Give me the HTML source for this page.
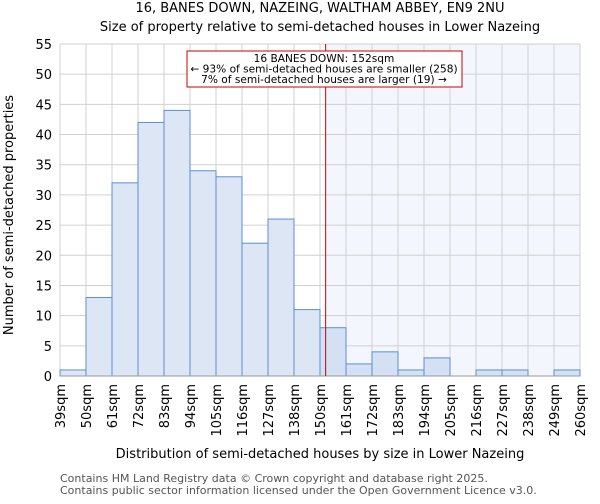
<!DOCTYPE html>
<html><head><meta charset="utf-8"><style>
body{margin:0;background:#fff;font-family:"DejaVu Sans","Liberation Sans",sans-serif;}
svg text{font-family:"DejaVu Sans","Liberation Sans",sans-serif;}
</style></head><body>
<svg id="chart" width="600" height="500" xmlns="http://www.w3.org/2000/svg">
<text x="320" y="12" text-anchor="middle" font-size="13">16, BANES DOWN, NAZEING, WALTHAM ABBEY, EN9 2NU</text>
<text x="320" y="31" text-anchor="middle" font-size="13">Size of property relative to semi-detached houses in Lower Nazeing</text>
<g id="grid"></g><g id="bars"></g><g id="axes"></g>
<text x="320" y="458" text-anchor="middle" font-size="13">Distribution of semi-detached houses by size in Lower Nazeing</text>
<text transform="translate(13,215) rotate(-90)" text-anchor="middle" font-size="13">Number of semi-detached properties</text>
<text x="60" y="482" font-size="11" fill="#555">Contains HM Land Registry data © Crown copyright and database right 2025.</text>
<text x="60" y="494" font-size="11" fill="#555">Contains public sector information licensed under the Open Government Licence v3.0.</text>
</svg>
<script>
const binLabels=["39sqm","50sqm","61sqm","72sqm","83sqm","94sqm","105sqm","116sqm","127sqm","138sqm","150sqm","161sqm","172sqm","183sqm","194sqm","205sqm","216sqm","227sqm","238sqm","249sqm","260sqm"];
const binStarts=[39,50,61,72,83,94,105,116,127,138,149.5,161,172,183,194,205,216,227,238,249,260];
const counts=[1,13,32,42,44,34,33,22,26,11,8,2,4,1,3,0,1,1,0,1];
const yTicks=[0,5,10,15,20,25,30,35,40,45,50,55];
const propertySize=152;
const NS="http://www.w3.org/2000/svg";
const X0=60,X1=580,Y0=376,Y1=44,YMAX=55;
const bw=(X1-X0)/counts.length;
const xi=i=>X0+i*bw;
const y=v=>Y0-(v/YMAX)*(Y0-Y1);
function xv(v){for(let i=0;i<binStarts.length-1;i++){if(v<=binStarts[i+1])return xi(i)+(v-binStarts[i])/(binStarts[i+1]-binStarts[i])*bw;}return X1;}
function mk(t,a,p){const e=document.createElementNS(NS,t);for(const k in a)e.setAttribute(k,a[k]);p.appendChild(e);return e;}
const grid=document.getElementById('grid'),bars=document.getElementById('bars'),axes=document.getElementById('axes');
const mx=xv(propertySize);
const sh=mk('rect',{x:mx,y:Y1,width:X1-mx,height:Y0-Y1,fill:"#f3f6fd"},grid);


yTicks.forEach(t=>{
 const l=mk('line',{x1:X0,x2:X1,y1:y(t),y2:y(t),stroke:"#d0d0d0"},grid);
 
 
 const tx=mk('text',{x:X0-8,y:y(t)+5,"text-anchor":"end","font-size":13},axes);tx.textContent=t;
 
 
});
binLabels.forEach((lb,i)=>{
 const l=mk('line',{x1:xi(i),x2:xi(i),y1:Y1,y2:Y0,stroke:"#d0d0d0"},grid);
 
 
 const tx=mk('text',{transform:`translate(${xi(i)+5},${Y0+8}) rotate(-90)`,"text-anchor":"end","font-size":13},axes);tx.textContent=lb;
 
 
});
counts.forEach((c,i)=>{
 if(c<=0)return;
 const r=mk('rect',{x:xi(i),y:y(c),width:bw,height:Y0-y(c),fill:xi(i)+bw/2<mx?"#dce6f4":"#d4e0f3",stroke:"#5b8fd6","stroke-width":1},bars);
 
 
});
const ax=mk('line',{x1:X0,x2:X1,y1:Y0,y2:Y0,stroke:"#999"},axes);


const ml=mk('line',{x1:mx,x2:mx,y1:Y1,y2:Y0,stroke:"#cc0000","stroke-width":1},axes);


const bx=mk('rect',{x:187,y:51,width:275,height:36,fill:"#fff",stroke:"#cc0000"},axes);


["16 BANES DOWN: 152sqm","← 93% of semi-detached houses are smaller (258)","7% of semi-detached houses are larger (19) →"].forEach((s,k)=>{
 const t=mk('text',{x:324,y:62+k*10.5,"text-anchor":"middle","font-size":10.6},axes);t.textContent=s;
 
 
});
</script>
</body></html>
